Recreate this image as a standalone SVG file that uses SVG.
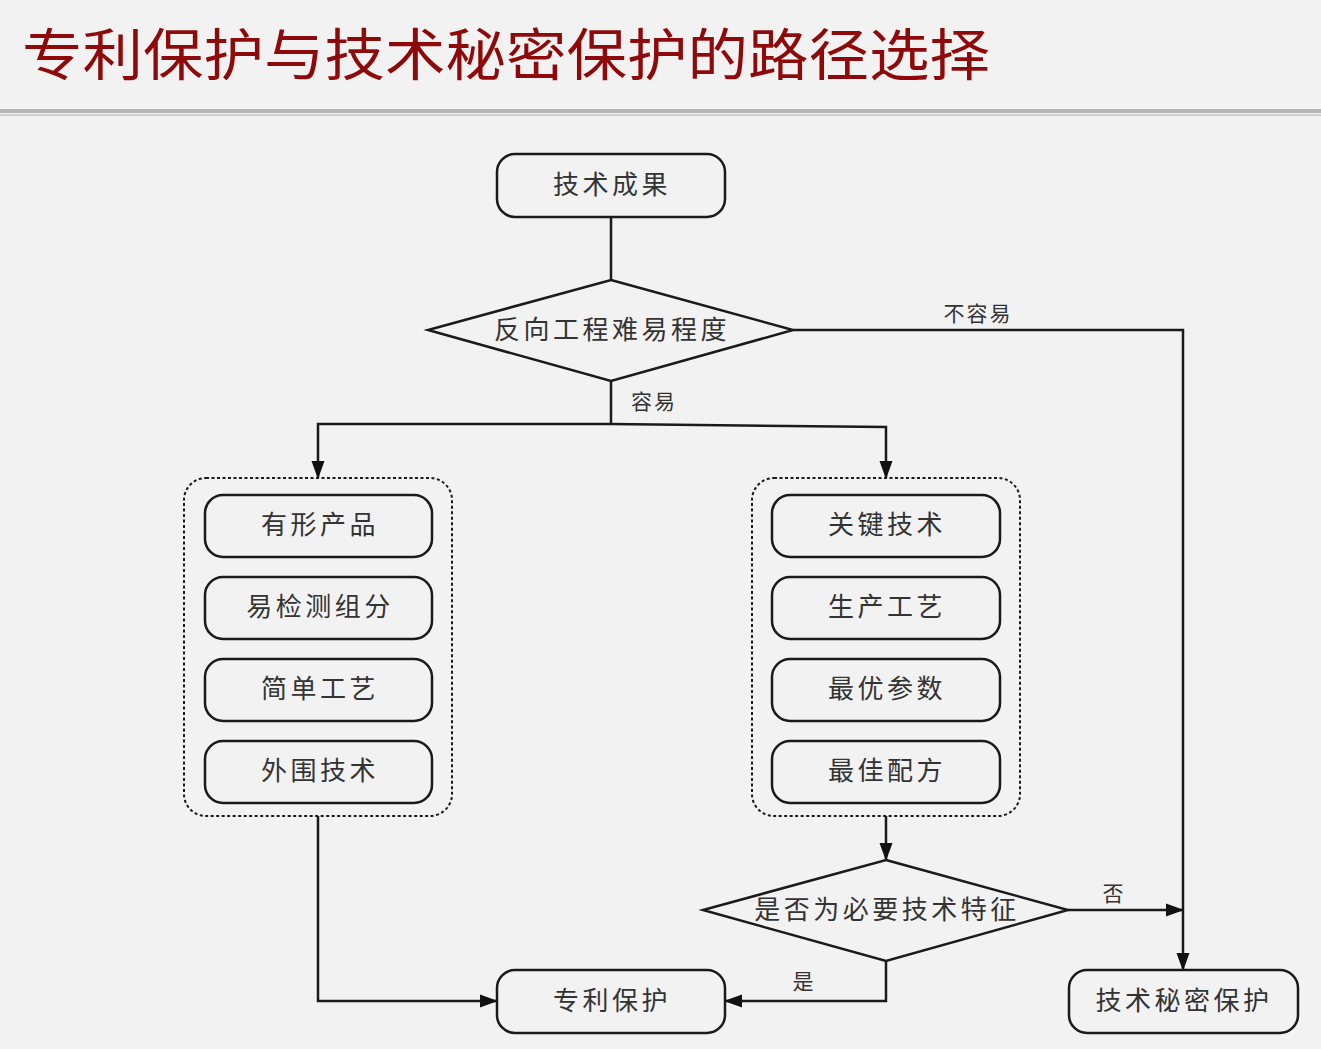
<svg xmlns="http://www.w3.org/2000/svg" width="1321" height="1049" viewBox="0 0 1321 1049">
<defs>
<marker id="arr" markerWidth="18" markerHeight="14" refX="17" refY="7" orient="auto" markerUnits="userSpaceOnUse">
<path d="M0,0.5 L18,7 L0,13.5 Z" fill="#111"/>
</marker>
<style>
.box{fill:#f2f2f2;stroke:#1a1a1a;stroke-width:2.5}
.grp{fill:none;stroke:#1a1a1a;stroke-width:2;stroke-dasharray:3,2.5}
.t{font-family:"Noto Sans CJK SC","Noto Sans",sans-serif;font-size:26px;letter-spacing:3.5px;fill:#333;text-anchor:middle;dominant-baseline:central}
.lbl{font-family:"Noto Sans CJK SC","Noto Sans",sans-serif;font-size:21px;letter-spacing:2px;fill:#333;text-anchor:middle;dominant-baseline:central}
.ln{fill:none;stroke:#1a1a1a;stroke-width:2.5}
</style>
</defs>
<rect width="1321" height="1049" fill="#f2f2f2"/>
<text x="22" y="75" font-family="'Noto Sans CJK SC',sans-serif" font-size="56" fill="#8e0a0a" textLength="968" lengthAdjust="spacingAndGlyphs">专利保护与技术秘密保护的路径选择</text>
<rect x="0" y="109" width="1321" height="4" fill="#b5b5b5"/>
<rect x="0" y="114" width="1321" height="2" fill="#cfcfcf"/>

<g id="connectors">
<path class="ln" d="M611,217 V280"/>
<path class="ln" d="M611,381 V424"/>
<path class="ln" d="M611,424 H318 V478" marker-end="url(#arr)"/>
<path class="ln" d="M611,424 L886,427 V478" marker-end="url(#arr)"/>
<path class="ln" d="M793,330 H1183 V970" marker-end="url(#arr)"/>
<path class="ln" d="M318,816 V1001 H497" marker-end="url(#arr)"/>
<path class="ln" d="M886,816 V860" marker-end="url(#arr)"/>
<path class="ln" d="M1068,910 H1183" marker-end="url(#arr)"/>
<path class="ln" d="M886,961 V1001 H725" marker-end="url(#arr)"/>
<text class="lbl" x="654" y="400">容易</text>
<text class="lbl" x="978" y="312">不容易</text>
<text class="lbl" x="1114" y="892">否</text>
<text class="lbl" x="804" y="980">是</text>
</g>

<g id="n-result"><rect class="box" x="497" y="154" width="228" height="63" rx="18"/><text class="t" x="612" y="182">技术成果</text></g>
<g id="n-reverse"><polygon class="box" points="611,280 793,330 611,381 428,330"/><text class="t" x="612" y="327">反向工程难易程度</text></g>

<g id="g-left"><rect class="grp" x="184" y="478" width="268" height="338" rx="22"/></g>
<g id="n-l1"><rect class="box" x="205" y="495" width="227" height="62" rx="18"/><text class="t" x="320" y="522">有形产品</text></g>
<g id="n-l2"><rect class="box" x="205" y="577" width="227" height="62" rx="18"/><text class="t" x="320" y="604">易检测组分</text></g>
<g id="n-l3"><rect class="box" x="205" y="659" width="227" height="62" rx="18"/><text class="t" x="320" y="686">简单工艺</text></g>
<g id="n-l4"><rect class="box" x="205" y="741" width="227" height="62" rx="18"/><text class="t" x="320" y="768">外围技术</text></g>

<g id="g-right"><rect class="grp" x="752" y="478" width="268" height="338" rx="22"/></g>
<g id="n-r1"><rect class="box" x="772" y="495" width="228" height="62" rx="18"/><text class="t" x="887" y="522">关键技术</text></g>
<g id="n-r2"><rect class="box" x="772" y="577" width="228" height="62" rx="18"/><text class="t" x="887" y="604">生产工艺</text></g>
<g id="n-r3"><rect class="box" x="772" y="659" width="228" height="62" rx="18"/><text class="t" x="887" y="686">最优参数</text></g>
<g id="n-r4"><rect class="box" x="772" y="741" width="228" height="62" rx="18"/><text class="t" x="887" y="768">最佳配方</text></g>

<g id="n-essential"><polygon class="box" points="886,860 1068,910 886,961 703,910"/><text class="t" x="887" y="907">是否为必要技术特征</text></g>
<g id="n-patent"><rect class="box" x="497" y="970" width="228" height="63" rx="18"/><text class="t" x="612" y="998">专利保护</text></g>
<g id="n-secret"><rect class="box" x="1069" y="970" width="229" height="63" rx="18"/><text class="t" x="1184" y="998">技术秘密保护</text></g>
</svg>
